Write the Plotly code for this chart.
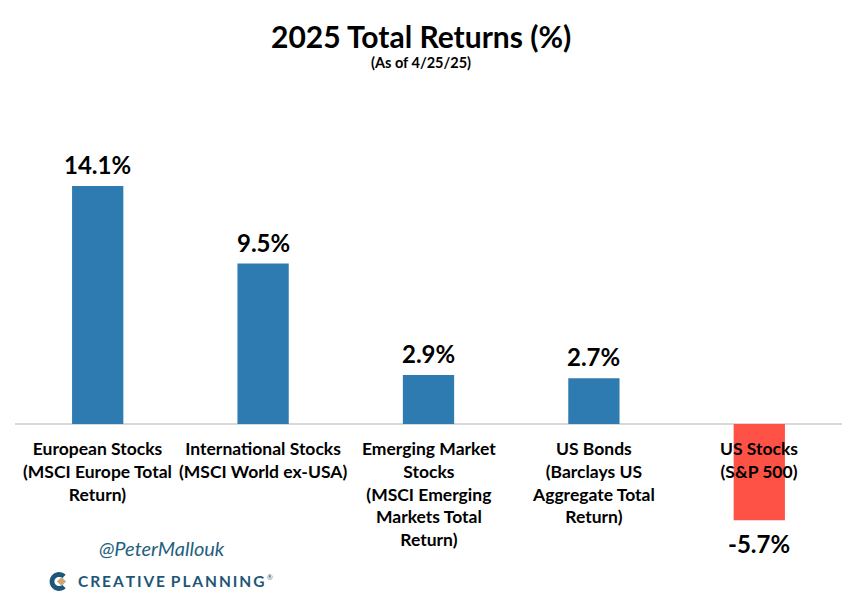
import numpy as np
import plotly.graph_objects as go

categories = [
    "European Stocks<br>(MSCI Europe Total<br>Return)",
    "International Stocks<br>(MSCI World ex-USA)",
    "Emerging Market<br>Stocks<br>(MSCI Emerging<br>Markets Total<br>Return)",
    "US Bonds<br>(Barclays US<br>Aggregate Total<br>Return)",
    "US Stocks<br>(S&P 500)",
]
returns = [14.1, 9.5, 2.9, 2.7, -5.7]
title_text = "2025 Total Returns (%)"
subtitle_text = "(As of 4/25/25)"
handle_text = "@PeterMallouk"
brand_text = "CREATIVE PLANNING"

BLUE = "#2E7BB2"
RED = "#FF5247"
FONT = "Lato"

W, H = 857, 609
ML, MR, MT, MB = 15, 15, 100, 49
PW, PH = W - ML - MR, H - MT - MB


def px(x):
    return (x - ML) / PW


def py(y):
    return (H - MB - y) / PH


xs = list(range(len(categories)))
colors = [BLUE if v >= 0 else RED for v in returns]

fig = go.Figure()
fig.add_trace(go.Bar(
    x=xs, y=returns, marker=dict(color=colors, line=dict(width=0)),
    width=0.31, hoverinfo="skip",
))

annotations = []
for i, (c, v) in enumerate(zip(categories, returns)):
    annotations.append(dict(
        x=i, y=v, xref="x", yref="y", text=f"<b>{v:.1f}%</b>",
        showarrow=False, yanchor="bottom" if v >= 0 else "top",
        yshift=5 if v >= 0 else -7,
        font=dict(family=FONT, size=24, color="black"),
    ))
    annotations.append(dict(
        x=i, y=0, xref="x", yref="y", text=f"<b>{c}</b>",
        showarrow=False, yanchor="top", yshift=-12,
        font=dict(family=FONT, size=17.5, color="black"),
    ))

brand = "\u2009".join(brand_text).replace("\u2009 \u2009", "\u2009\u2009\u2009")
annotations += [
    dict(x=px(421), y=py(36), xref="paper", yref="paper", text=f"<b>{title_text}</b>",
         showarrow=False, xanchor="center", yanchor="middle",
         font=dict(family=FONT, size=30, color="black")),
    dict(x=px(421), y=py(63), xref="paper", yref="paper", text=f"<b>{subtitle_text}</b>",
         showarrow=False, xanchor="center", yanchor="middle",
         font=dict(family=FONT, size=14.5, color="black")),
    dict(x=px(162), y=py(548), xref="paper", yref="paper", text=f"<i>{handle_text}</i>",
         showarrow=False, xanchor="center", yanchor="middle",
         font=dict(family=FONT, size=20, color="#1F5F80")),
    dict(x=px(76), y=py(581), xref="paper", yref="paper", text=f"<b>{brand}</b>",
         showarrow=False, xanchor="left", yanchor="middle",
         font=dict(family=FONT, size=15.5, color="#1E5677")),
    dict(x=px(265), y=py(577), xref="paper", yref="paper", text="®",
         showarrow=False, xanchor="left", yanchor="middle",
         font=dict(family=FONT, size=7, color="#1E5677")),
]

# Logo icon: thick "C" with a tan diamond inside (pixel-sized shapes)
ang = np.linspace(np.radians(45), np.radians(315), 30)
ro, ri = 9.4, 4.6
pts = [(ro * np.cos(a), ro * np.sin(a)) for a in ang] + \
      [(ri * np.cos(a), ri * np.sin(a)) for a in ang[::-1]]
cpath = "M " + " L ".join(f"{x:.2f},{y:.2f}" for x, y in pts) + " Z"
dpath = "M 0,-4.6 L 4.6,0 L 0,4.6 L -4.6,0 Z"
shapes = [
    dict(type="path", xref="paper", yref="paper", xsizemode="pixel", ysizemode="pixel",
         xanchor=px(59), yanchor=py(581.5), path=cpath,
         fillcolor="#1E5677", line=dict(width=0)),
    dict(type="path", xref="paper", yref="paper", xsizemode="pixel", ysizemode="pixel",
         xanchor=px(61.5), yanchor=py(581.5), path=dpath,
         fillcolor="#C9A97C", line=dict(width=0)),
]

fig.update_layout(
    width=W, height=H, margin=dict(l=ML, r=MR, t=MT, b=MB),
    paper_bgcolor="white", plot_bgcolor="white",
    showlegend=False, annotations=annotations, shapes=shapes,
    xaxis=dict(range=[-0.5, len(categories) - 0.5], showticklabels=False,
               showgrid=False, zeroline=False, showline=False, fixedrange=True),
    yaxis=dict(range=[-8.06, 19.19], showticklabels=False, showgrid=False,
               zeroline=True, zerolinecolor="#D9D9D9", zerolinewidth=2,
               showline=False, fixedrange=True),
)

fig.write_html("out.html")
